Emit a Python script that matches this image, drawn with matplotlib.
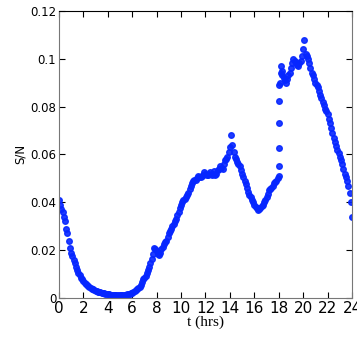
import numpy as np
import matplotlib
matplotlib.use('Agg')
import matplotlib.pyplot as plt

plt.rcParams['font.family'] = ['Liberation Sans Narrow', 'DejaVu Sans']

# time (hrs) and signal-to-noise values (first pass of samples)
t_a = [0.0, 0.2, 0.4, 0.6, 0.8, 1.0, 1.2, 1.4, 1.6, 1.8,
       2.0, 2.2, 2.4, 2.6, 2.8, 3.0, 3.2, 3.4, 3.6, 3.8,
       4.0, 4.2, 4.4, 4.6, 4.8, 5.0, 5.2, 5.4, 5.6, 5.8,
       6.0, 6.2, 6.4, 6.6, 6.8, 7.0, 7.2, 7.4, 7.6, 7.8,
       8.0, 8.2, 8.4, 8.6, 8.8, 9.0, 9.2, 9.4, 9.6, 9.8,
       10.0, 10.2, 10.4, 10.6, 10.8, 11.0, 11.2, 11.4, 11.6, 11.8,
       12.0, 12.2, 12.4, 12.6, 12.8, 13.0, 13.2, 13.4, 13.6, 13.8,
       14.0, 14.1, 14.2, 14.4, 14.6, 14.8, 15.0, 15.2, 15.4, 15.6,
       15.8, 16.0, 16.2, 16.4, 16.6, 16.8, 17.0, 17.2, 17.4, 17.6,
       17.8, 18.0, 18.0, 18.0, 18.0, 18.0, 18.1, 18.15, 18.2, 18.4,
       18.6, 18.8, 19.0, 19.2, 19.4, 19.6, 19.8, 20.0, 20.1, 20.2,
       20.4, 20.6, 20.8, 21.0, 21.2, 21.4, 21.6, 21.8, 22.0, 22.2,
       22.4, 22.6, 22.8, 23.0, 23.2, 23.4, 23.6, 23.8, 24.0]
snr_a = [0.041, 0.037, 0.034, 0.029, 0.024, 0.019, 0.016, 0.013, 0.0105, 0.0085,
         0.007, 0.0058, 0.005, 0.0042, 0.0036, 0.0031, 0.0027, 0.0024, 0.0021, 0.0018,
         0.0016, 0.0014, 0.0013, 0.0012, 0.0011, 0.0011, 0.0012, 0.0013, 0.0015, 0.0018,
         0.0022, 0.0028, 0.0036, 0.0046, 0.0065, 0.0085, 0.0105, 0.013, 0.0165, 0.021,
         0.0195, 0.018, 0.0205, 0.0225, 0.024, 0.027, 0.029, 0.031, 0.033, 0.036,
         0.039, 0.041, 0.042, 0.044, 0.047, 0.049, 0.0495, 0.051, 0.0505, 0.0515,
         0.052, 0.0515, 0.0525, 0.052, 0.0515, 0.0535, 0.055, 0.054, 0.0575, 0.059,
         0.063, 0.068, 0.064, 0.059, 0.057, 0.055, 0.052, 0.049, 0.046, 0.043,
         0.041, 0.039, 0.0375, 0.037, 0.0385, 0.040, 0.042, 0.045, 0.046, 0.048,
         0.049, 0.051, 0.055, 0.0627, 0.073, 0.0825, 0.090, 0.097, 0.094, 0.092,
         0.090, 0.093, 0.096, 0.100, 0.098, 0.097, 0.099, 0.104, 0.108, 0.102,
         0.100, 0.096, 0.093, 0.090, 0.088, 0.085, 0.082, 0.079, 0.077, 0.073,
         0.069, 0.065, 0.062, 0.059, 0.056, 0.052, 0.049, 0.044, 0.034]

# second pass of samples, in between the first ones
t_b = [0.1, 0.3, 0.5, 0.7, 0.9, 1.1, 1.3, 1.5, 1.7, 1.9,
       2.1, 2.3, 2.5, 2.7, 2.9, 3.1, 3.3, 3.5, 3.7, 3.9,
       4.1, 4.3, 4.5, 4.7, 4.9, 5.1, 5.3, 5.5, 5.7, 5.9,
       6.1, 6.3, 6.5, 6.7, 6.9, 7.1, 7.3, 7.5, 7.7, 7.9,
       8.1, 8.3, 8.5, 8.7, 8.9, 9.1, 9.3, 9.5, 9.7, 9.9,
       10.1, 10.3, 10.5, 10.7, 10.9, 11.1, 11.3, 11.5, 11.7, 11.9,
       12.1, 12.3, 12.5, 12.7, 12.9, 13.1, 13.3, 13.5, 13.7, 13.9,
       14.3, 14.5, 14.7, 14.9, 15.1, 15.3, 15.5, 15.7, 15.9,
       16.1, 16.3, 16.5, 16.7, 16.9, 17.1, 17.3, 17.5, 17.7, 17.9,
       18.05, 18.25, 18.3, 18.5, 18.7, 18.9, 19.1, 19.3, 19.5, 19.7, 19.9,
       20.3, 20.5, 20.7, 20.9, 21.1, 21.3, 21.5, 21.7, 21.9,
       22.1, 22.3, 22.5, 22.7, 22.9, 23.1, 23.3, 23.5, 23.7, 23.9]
snr_b = [0.039, 0.036, 0.032, 0.027, 0.021, 0.0175, 0.0145, 0.0118, 0.0095, 0.0078,
         0.0064, 0.0054, 0.0046, 0.0039, 0.0033, 0.0029, 0.0025, 0.0022, 0.0019, 0.0017,
         0.0015, 0.0013, 0.0012, 0.0011, 0.0010, 0.0011, 0.0012, 0.0014, 0.0016, 0.002,
         0.0025, 0.0032, 0.0041, 0.0055, 0.0078, 0.0092, 0.0118, 0.0145, 0.0185, 0.0205,
         0.0185, 0.019, 0.0215, 0.0235, 0.0255, 0.028, 0.030, 0.032, 0.0345, 0.0375,
         0.040, 0.0415, 0.043, 0.0455, 0.048, 0.0495, 0.050, 0.0505, 0.051, 0.0525,
         0.0515, 0.052, 0.0515, 0.053, 0.052, 0.054, 0.0545, 0.056, 0.058, 0.061,
         0.061, 0.058, 0.056, 0.0535, 0.0505, 0.0475, 0.0445, 0.042, 0.040,
         0.038, 0.0368, 0.0375, 0.039, 0.041, 0.0435, 0.0455, 0.047, 0.0485, 0.050,
         0.089, 0.095, 0.093, 0.091, 0.0915, 0.094, 0.098, 0.099, 0.0975, 0.098, 0.101,
         0.101, 0.098, 0.094, 0.0915, 0.089, 0.0865, 0.0835, 0.0805, 0.078,
         0.075, 0.071, 0.067, 0.0635, 0.0605, 0.0575, 0.054, 0.0505, 0.047, 0.040]

fig = plt.figure(figsize=(3.57, 3.39), dpi=100)
ax = fig.add_axes([0.165, 0.121, 0.821, 0.847])

for t, s in [(t_a, snr_a), (t_b, snr_b)]:
    ax.plot(t, s, 'o', color='#0626ff', ms=4, mec='#0626ff', alpha=0.9)

ax.set_xlim(0, 24)
ax.set_ylim(0, 0.12)
ax.set_xticks(np.arange(0, 25, 2))
ax.set_yticks([0, 0.02, 0.04, 0.06, 0.08, 0.1, 0.12])
ax.set_yticklabels(['0', '0.02', '0.04', '0.06', '0.08', '0.1', '0.12'])
ax.tick_params(direction='in', top=True, right=True, length=4, width=0.8, pad=2)
ax.tick_params(axis='x', labelsize=11)
ax.tick_params(axis='y', labelsize=8.5)

for side in ['left', 'bottom', 'right']:
    ax.spines[side].set_color('#777777')
ax.spines['top'].set_color('black')

ax.set_xlabel('t (hrs)', family='Liberation Serif', fontsize=11, labelpad=0)
ax.set_ylabel('S/N', fontsize=8.5, labelpad=2)

fig.savefig('out.png', dpi=100)
